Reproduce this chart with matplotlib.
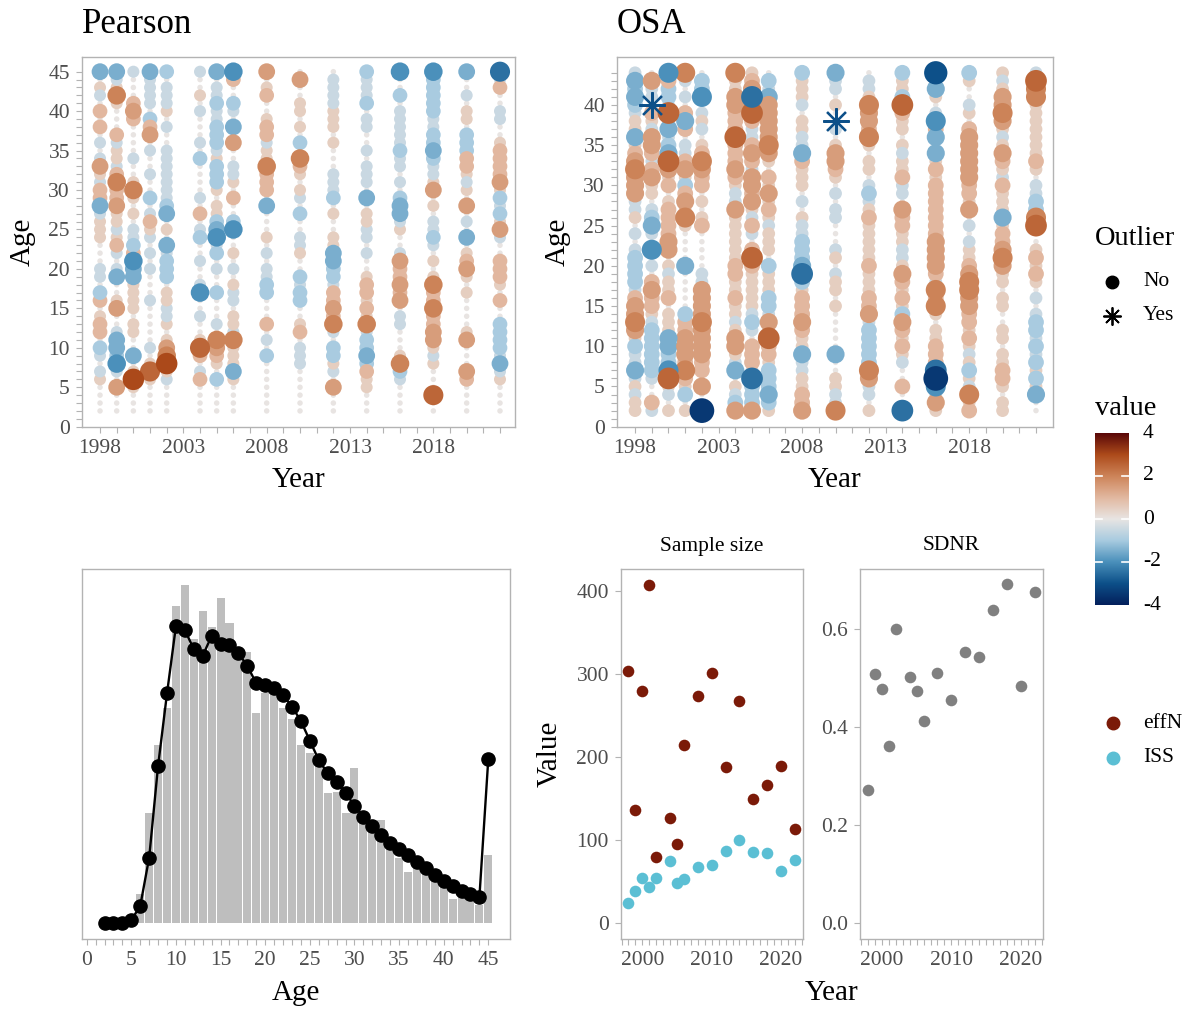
import numpy as np
import matplotlib
matplotlib.use("Agg")
import matplotlib.pyplot as plt
from matplotlib.colors import LinearSegmentedColormap, Normalize

plt.rcParams['font.family'] = ['Liberation Serif', 'DejaVu Serif']

W, H = 1192, 1009

# ---------------- data ----------------
years = [1998, 1999, 2000, 2001, 2002, 2004, 2005, 2006, 2008, 2010, 2012, 2014, 2016, 2018, 2020, 2022]

# residual codes: A=-4.0, B=-3.5, ... I=0, ... Q=+4.0 (0.5 steps)
# Pearson: each string lists ages 45 (first) down to 2 (last)
pearson_codes = [
    "FIJHIKIKIH" "IHLJHKKFHJ" "JJIIIHHIGK" "IJKKIGHIHJ" "IIII",
    "FHJMJIIIKH" "JJHKMKKLJJ" "HJKHIHFIIJ" "LIIHFFGEHI" "LIII",
    "HIIIKLKIII" "IHIIJMJIJI" "HHGKEFFJJJ" "JIJJIIFIJO" "JIII",
    "FHHHHIGKLI" "HIIHIIGIHK" "JHIHIHIIIH" "IIIIIHIJNJ" "IIII",
    "GIHHHJIHII" "HHHHHHHGFI" "JIFHGGGIJJ" "HHJIJLMOJH" "IIII",
    "HIIJIHIIIH" "IGIIIIHIKI" "HGIIHIIHEI" "IHIIJNKIHK" "IIII",
    "FIHHGHHGGG" "HJGGGJIJJG" "FEHGIHIIGI" "IIHIMLKJIG" "IIII",
    "EKIIGHIFIL" "IIHHJIKIIG" "EIIJIHIJHH" "IJJHMJJJFJ" "IIII",
    "LIJKIIJKKH" "JJMKKKIFII" "IJIHIHHGGI" "IIKIHIGIII" "IIII",
    "ILIIJJIJIG" "IMKJIJHIGI" "IHHJIIGHGG" "IIJKIHHHII" "IIII",
    "IHHHHJJJIJ" "IIIHHHGIJI" "IJJFFGGHKK" "LKMHIGGJHI" "LIII",
    "GHHHGIHHII" "HIHHHIFIJJ" "HHIHIIJKKJ" "KJMHGGFGKJ" "JIII",
    "EIIGIHHHHH" "GHHIHIGFFH" "JIIHLKKLKL" "IHHIIIJMGH" "IIII",
    "EGGGGGHHGG" "FGHHJLIJIH" "HGHIJIJMKK" "MKKLLJHJII" "INII",
    "FIIHIJJIGG" "GKKJHJILIH" "IFIJKLJIJI" "IIIJLIIILK" "IIII",
    "DHKIIHHIIJ" "KKKKLJGHGJ" "LHIIKKKJIK" "IIGGGGHFHJ" "IIII",
]
pearson_top_age = 45

# OSA: each string lists ages 44 (first) down to 2 (last)
osa_codes = [
    "HFGFGHJJFJ" "KLMLLLHHJI" "HIHGGGGHKL" "LMLJGHHFHJ" "HJJ",
    "ILHHCKJHLL" "KHKLJJIHGF" "HIEIHIKLKK" "JHGGGGGGHI" "IKH",
    "EKGGHNHFHG" "FNLJKIJKKK" "KLLIJHJJKI" "JJJFFGGENJ" "HIJ",
    "MHIHIKFKIH" "HKLJGKLJMJ" "IIIIFIIIII" "GKKLLLKMKJ" "GIJ",
    "IGGEIHJHIJ" "KMLKKIJIJK" "IIIIIHHLLL" "LMLLLLKKIL" "IIB",
    "MJJLLKKKNK" "KKLKJHHLJJ" "JJJJKKJJKJ" "JHJLLJHFIJ" "HGL",
    "JKLDLNKHHK" "LKHLLKLJHK" "HIKNKJJJJJ" "HGHIKKKHDG" "GGL",
    "IGHFLLLLLM" "LJIKJLJKJH" "JJJIGJJJGG" "HLHNKKJGGG" "FGJ",
    "GJJJHIJJHH" "FKJJJIHIJH" "HGGGFDGJKK" "KLKJJFHHJJ" "KKL",
    "FHHIJICHIJ" "LLKJIHIHHI" "IIHJIHJJIJ" "IIIIIFIIJJ" "HHM",
    "IHHJMLLKMJ" "IJJIHGHJKJ" "JJJJKJJJKK" "LHGGGGGMLH" "HIJ",
    "GJJGNKJJIJ" "HJJKHHILKK" "JJHHJLKJKJ" "GLKJKJHIIK" "IID",
    "CJFJIHEKFI" "FJKJKKKKKK" "KLLLLKHMKM" "JIJJKKKDBE" "HLJ",
    "GJIIHJIKLL" "LLLLKKJLIH" "IHJJKLMMLL" "KKJKJHJGJH" "MJK",
    "JHJLLMLJHJ" "LKJHKJJJFJ" "KKLMLJJIJJ" "IIJJIJJKKJ" "IJJ",
    "HNMMJJJJJJ" "JKJIHHGGMN" "IIJKJKJIHI" "HGGHGHGJGJ" "FII",
]
osa_top_age = 44
osa_outlier_years = [1999, 2010]
osa_outlier_ages = [40, 38]

# mean age composition (bars = observed, line = predicted), ages 2..45
comp_ages = list(range(2, 46))
comp_obs = [0, 0, 0, 0, 87, 330, 535, 647, 953, 1015, 853, 937, 890, 977, 900, 800, 815, 630,
            690, 690, 647, 612, 535, 510, 480, 390, 395, 330, 465, 305, 280, 310, 230, 195,
            155, 180, 155, 140, 115, 72, 95, 80, 55, 205]
comp_pred = [0, 0, 2, 10, 52, 197, 473, 690, 892, 880, 822, 802, 863, 837, 835, 810, 772, 720,
             715, 705, 685, 650, 607, 548, 490, 450, 425, 392, 352, 320, 292, 265, 242, 222,
             205, 185, 165, 145, 127, 112, 98, 87, 78, 494]

effN = [303, 136, 280, 407, 80, 127, 95, 215, 273, 301, 188, 267, 149, 166, 189, 113]
ISS = [25, 39, 54, 44, 55, 75, 49, 53, 68, 70, 87, 100, 86, 84, 63, 76]
SDNR = [0.272, 0.509, 0.478, 0.361, 0.600, 0.503, 0.473, 0.413, 0.511, 0.456, 0.554, 0.543,
        0.640, 0.693, 0.485, 0.676]

# ---------------- styling helpers ----------------
cmap = LinearSegmentedColormap.from_list("vik_r", [
    (0.000, '#03205c'), (0.125, '#0d5089'), (0.250, '#4a90bb'), (0.375, '#a8cbe0'),
    (0.500, '#e8e5e3'), (0.625, '#e2b8a0'), (0.750, '#cd8459'), (0.875, '#ad4b1b'),
    (1.000, '#5a0808')])
norm = Normalize(-4, 4)

GRID = '#b3b3b3'
TXT = '#4d4d4d'
TICK_FS = 15.5


def rect(x0, y0, x1, y1):
    return [x0 / W, 1 - y1 / H, (x1 - x0) / W, (y1 - y0) / H]


def fx(x):
    return x / W


def fy(y):
    return 1 - y / H


def style(ax):
    for s in ax.spines.values():
        s.set_color(GRID)
        s.set_linewidth(1.0)
    ax.tick_params(which='both', color=GRID, width=0.8, length=4.5,
                   labelcolor=TXT, labelsize=TICK_FS, pad=4)


def decode(code):
    return [(ord(c) - ord('I')) * 0.5 for c in code]


def bubbles(ax, codes, top_age, dmin, dmax, vmax, outliers=()):
    xs, ys, vs = [], [], []
    for yr, code in zip(years, codes):
        for i, v in enumerate(decode(code)):
            age = top_age - i
            if (yr, age) in outliers:
                continue
            xs.append(yr)
            ys.append(age)
            vs.append(v)
    xs, ys, vs = map(np.array, (xs, ys, vs))
    order = np.argsort(np.abs(vs))
    d_px = dmin + (dmax - dmin) * np.sqrt(np.clip(np.abs(vs) / vmax, 0, 1))
    s = (d_px * 0.72) ** 2
    ax.scatter(xs[order], ys[order], s=s[order], c=cmap(norm(vs[order])),
               linewidths=0, zorder=3)
    return vs


fig = plt.figure(figsize=(W / 100, H / 100), dpi=100)

# ---------------- Pearson ----------------
ax1 = fig.add_axes(rect(81.7, 56.7, 515, 426.7))
bubbles(ax1, pearson_codes, pearson_top_age, dmin=5.5, dmax=22, vmax=3.2)
ax1.set_xlim(1996.9, 2022.9)
ax1.set_ylim(0, 46.9)
ax1.set_xticks([1998, 2003, 2008, 2013, 2018])
ax1.set_xticks(range(1998, 2023), minor=True)
ax1.set_yticks(range(0, 46, 5))
ax1.set_yticks(range(0, 46), minor=True)
style(ax1)

# ---------------- OSA ----------------
ax2 = fig.add_axes(rect(616.7, 56.7, 1052.7, 426.7))
outl = set(zip(osa_outlier_years, osa_outlier_ages))
bubbles(ax2, osa_codes, osa_top_age, dmin=5.5, dmax=25, vmax=3.6, outliers=outl)
for yr, age in zip(osa_outlier_years, osa_outlier_ages):
    code = osa_codes[years.index(yr)]
    v = decode(code)[osa_top_age - age]
    ax2.plot([yr], [age], linestyle='none', marker=(8, 2, 0), markersize=19,
             markeredgewidth=1.6, color=cmap(norm(v)), zorder=5)
ax2.set_xlim(1996.9, 2023.0)
ax2.set_ylim(0, 46.0)
ax2.set_xticks([1998, 2003, 2008, 2013, 2018])
ax2.set_xticks(range(1998, 2023), minor=True)
ax2.set_yticks(range(0, 41, 5))
ax2.set_yticks(range(0, 45), minor=True)
style(ax2)

# ---------------- composition ----------------
ax3 = fig.add_axes(rect(81.7, 569.3, 510, 939.3))
ax3.bar(comp_ages, comp_obs, width=0.9, color='#bebebe', linewidth=0, zorder=2)
ax3.plot(comp_ages, comp_pred, color='black', linewidth=1.7, marker='o',
         markersize=9.5, zorder=3)
ax3.set_xlim(-0.56, 47.43)
ax3.set_ylim(-48, 1062)
ax3.set_xticks(range(0, 46, 5))
ax3.set_xticks(range(0, 46), minor=True)
ax3.set_yticks([])
style(ax3)

# ---------------- sample size ----------------
ax4 = fig.add_axes(rect(620.7, 568.7, 803.3, 939.3))
ax4.scatter(years, effN, s=70, color='#7b1a08', linewidths=0, zorder=3)
ax4.scatter(years, ISS, s=70, color='#5bbfd4', linewidths=0, zorder=3)
ax4.set_xlim(1996.88, 2023.2)
ax4.set_ylim(-19.2, 426.5)
ax4.set_xticks([2000, 2010, 2020])
ax4.set_xticks(range(1997, 2024), minor=True)
ax4.set_yticks(range(0, 401, 100))
style(ax4)

ax5 = fig.add_axes(rect(860, 568.7, 1042.7, 939.3))
ax5.scatter(years, SDNR, s=70, color='#808080', linewidths=0, zorder=3)
ax5.set_xlim(1996.88, 2023.1)
ax5.set_ylim(-0.0327, 0.7236)
ax5.set_xticks([2000, 2010, 2020])
ax5.set_xticks(range(1997, 2024), minor=True)
ax5.set_yticks([0.0, 0.2, 0.4, 0.6])
ax5.set_yticklabels(['0.0', '0.2', '0.4', '0.6'])
style(ax5)

# ---------------- texts ----------------
fig.text(fx(81.7), fy(33.3), 'Pearson', fontsize=25, va='baseline', ha='left')
fig.text(fx(616.7), fy(33.3), 'OSA', fontsize=25, va='baseline', ha='left')
fig.text(fx(298.3), fy(487), 'Year', fontsize=21, ha='center', va='baseline')
fig.text(fx(834.7), fy(487), 'Year', fontsize=21, ha='center', va='baseline')
fig.text(fx(23), fy(241.7), 'Age', fontsize=21, ha='center', va='center', rotation=90)
fig.text(fx(558), fy(241.7), 'Age', fontsize=21, ha='center', va='center', rotation=90)
fig.text(fx(296), fy(1000), 'Age', fontsize=21, ha='center', va='baseline')
fig.text(fx(831.7), fy(1000), 'Year', fontsize=21, ha='center', va='baseline')
fig.text(fx(550), fy(754), 'Value', fontsize=21, ha='center', va='center', rotation=90)
fig.text(fx(712), fy(546), 'Sample size', fontsize=15.5, ha='center', va='center')
fig.text(fx(951.4), fy(546), 'SDNR', fontsize=15.5, ha='center', va='center')

# ---------------- legends ----------------
lax = fig.add_axes([0, 0, 1, 1], zorder=-1)
lax.set_xlim(0, W)
lax.set_ylim(H, 0)
lax.axis('off')

fig.text(fx(1095), fy(245), 'Outlier', fontsize=20.5, ha='left', va='baseline')
lax.plot([1112], [281.7], 'o', color='black', markersize=9)
lax.plot([1112], [316], linestyle='none', marker=(8, 2, 0), markersize=13,
         markeredgewidth=1.3, color='black')
fig.text(fx(1143), fy(281.7), 'No', fontsize=15.5, ha='left', va='center')
fig.text(fx(1143), fy(316), 'Yes', fontsize=15.5, ha='left', va='center')

fig.text(fx(1095), fy(415), 'value', fontsize=20.5, ha='left', va='baseline')
cax = fig.add_axes(rect(1095, 433, 1129, 605))
grad = np.linspace(4, -4, 256).reshape(-1, 1)
cax.imshow(grad, aspect='auto', cmap=cmap, norm=norm, extent=[0, 1, -4, 4])
for t in [2, 0, -2]:
    cax.plot([0, 0.2], [t, t], color='white', lw=1.2)
    cax.plot([0.8, 1], [t, t], color='white', lw=1.2)
cax.set_xlim(0, 1)
cax.set_ylim(-4, 4)
cax.axis('off')
for t, lab in zip([4, 2, 0, -2, -4], ['4', '2', '0', '-2', '-4']):
    fig.text(fx(1143), fy(519 - t * 21.5), lab, fontsize=15.5, ha='left', va='center')

lax.plot([1113], [723], 'o', color='#7b1a08', markersize=9)
lax.plot([1113], [758], 'o', color='#5bbfd4', markersize=9)
fig.text(fx(1143), fy(723), 'effN', fontsize=15.5, ha='left', va='center')
fig.text(fx(1143), fy(758), 'ISS', fontsize=15.5, ha='left', va='center')

fig.savefig('out.png', dpi=100)
